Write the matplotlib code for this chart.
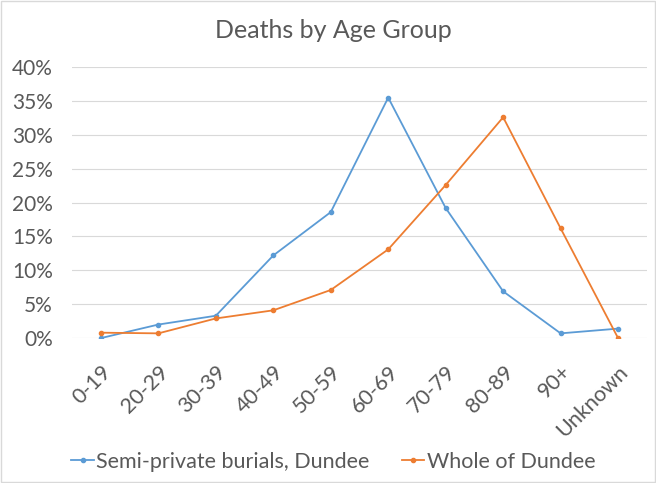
import matplotlib
matplotlib.use('Agg')
import matplotlib.pyplot as plt
from matplotlib.ticker import PercentFormatter

# Age groups and share of deaths (%) in each
age_groups = ['0-19', '20-29', '30-39', '40-49', '50-59', '60-69',
              '70-79', '80-89', '90+', 'Unknown']
semi_private = [0.0, 2.0, 3.3, 12.2, 18.6, 35.5, 19.2, 6.9, 0.7, 1.4]
whole_dundee = [0.8, 0.7, 2.9, 4.1, 7.1, 13.1, 22.6, 32.6, 16.2, 0.0]

plt.rcParams['font.family'] = ['Lato', 'DejaVu Sans']
text_grey = '#595959'

fig = plt.figure(figsize=(6.56, 4.83), dpi=100)
ax = fig.add_axes([0.110, 0.300, 0.876, 0.561])

x = range(len(age_groups))
ax.plot(x, semi_private, color='#5B9BD5', lw=1.3, marker='o', ms=3,
        label='Semi-private burials, Dundee')
ax.plot(x, whole_dundee, color='#ED7D31', lw=1.3, marker='o', ms=3,
        label='Whole of Dundee')

ax.set_ylim(0, 40)
ax.set_yticks(range(0, 41, 5))
ax.yaxis.set_major_formatter(PercentFormatter(decimals=0))
ax.set_xlim(-0.5, len(age_groups) - 0.5)
ax.set_xticks(list(x))
ax.set_xticklabels(age_groups, rotation=45, ha='right', rotation_mode='anchor')
ax.grid(axis='y', color='#D9D9D9', lw=0.8)
ax.set_axisbelow(True)
for s in ax.spines.values():
    s.set_visible(False)
ax.tick_params(length=0, colors=text_grey)
ax.tick_params(axis='y', labelsize=15, pad=14)
ax.tick_params(axis='x', labelsize=15.5, pad=17)

fig.suptitle('Deaths by Age Group', x=0.508, y=0.96, fontsize=18, color=text_grey)

fig.legend(loc='center', bbox_to_anchor=(0.508, 0.044), ncol=2, frameon=False,
           fontsize=15.5, labelcolor=text_grey, handlelength=1.05,
           handletextpad=0.1, columnspacing=1.5)

# light frame round the whole chart
fig.patches.append(plt.Rectangle((0.002, 0.002), 0.996, 0.996, transform=fig.transFigure,
                                 fill=False, edgecolor='#D9D9D9', lw=1))

fig.savefig('out.png', dpi=100)
